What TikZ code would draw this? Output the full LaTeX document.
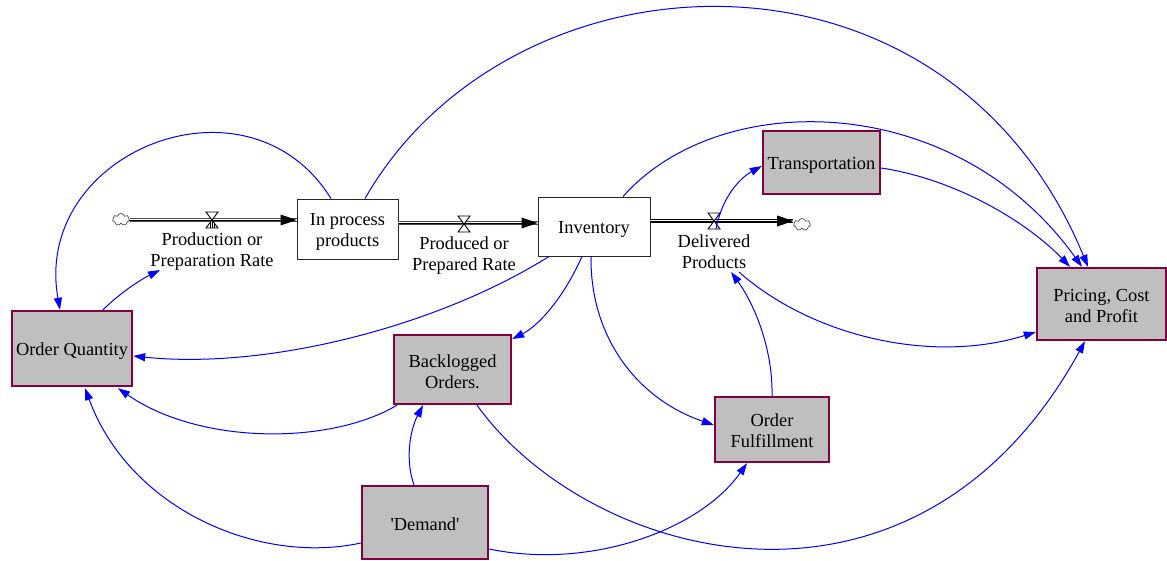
\documentclass[tikz,border=0pt]{standalone}
\usepackage{fontspec}
\setmainfont{Liberation Serif}
\newfontfamily\plainq{Liberation Serif}
\usetikzlibrary{arrows.meta,calc,shapes.symbols}
\newcommand{\lowerby}{\rule{0pt}{18.5pt}}
\newcommand{\lowertwo}{\rule{0pt}{16.5pt}}
\tikzset{
  stock/.style={draw=black!85,fill=white,line width=0.9pt,align=center,inner sep=0pt},
  tool/.style={draw={rgb,255:red,128;green,0;blue,64},fill={rgb,255:red,191;green,191;blue,191},line width=2.4pt,align=center,inner sep=0pt},
  lbl/.style={align=center,inner sep=0pt},
  link/.style={draw={rgb,255:red,0;green,0;blue,255},line width=1pt,-{Triangle[length=12pt,width=8pt,fill={rgb,255:red,0;green,0;blue,255}]}},
  flowpipe/.style={line width=1.4pt,double=white,double distance=1.4pt,draw=black!70},
  flowpipedark/.style={line width=1.4pt,double=white,double distance=1.4pt,draw=black},
  flowhead/.style={line width=0pt,-{Triangle[length=16pt,width=11pt,fill=black]}},
  puff/.style={cloud,cloud puffs=7,draw=black!70,fill=white,line width=0.7pt,minimum width=17pt,minimum height=12pt,inner sep=0pt,aspect=1.4},
  valvept/.style={inner sep=0pt,minimum size=0pt},
  valveline/.style={draw=black,line width=0.9pt}
}
\newcommand{\valveat}[1]{%
  \draw[valveline,fill=white] ($(#1)+(-6,-8)$) -- ($(#1)+(6,-8)$) -- ($(#1)+(-6,8)$) -- ($(#1)+(6,8)$) -- cycle;
}
\newcommand{\valvehatch}[1]{%
  \draw[line width=0.6pt] ($(#1)+(-2,3)$) -- ($(#1)+(-2,8)$) ($(#1)+(0,0)$) -- ($(#1)+(0,8)$) ($(#1)+(2,3)$) -- ($(#1)+(2,8)$);
}
\begin{document}
\begin{tikzpicture}[x=1pt,y=-1pt,font=\fontsize{18.4}{21}\selectfont]
\useasboundingbox (0,0) rectangle (1167,560);
\fill[white] (0,0) rectangle (1167,560);

% boxes
\node[stock,minimum width=101pt,minimum height=60pt] (ip) at (347.5,229) {\lowerby In process\\products};
\node[stock,minimum width=112pt,minimum height=59pt] (inv) at (594,226.5) {\lowerby Inventory};
\node[tool,minimum width=117pt,minimum height=63pt] (tr) at (821.5,162.5) {\lowerby Transportation};
\node[tool,minimum width=120pt,minimum height=75pt] (oq) at (72,348.5) {\lowerby Order Quantity};
\node[tool,minimum width=117pt,minimum height=69pt] (bo) at (452.5,369.5) {\lowertwo Backlogged\\Orders.};
\node[tool,minimum width=114pt,minimum height=65pt] (of) at (772,429.5) {\rule{0pt}{16pt}Order\\Fulfillment};
\node[tool,minimum width=126pt,minimum height=73pt] (de) at (425,522.5) {\rule{0pt}{16pt}\plainq 'Demand'};
\node[tool,minimum width=129pt,minimum height=72pt] (pc) at (1101.5,304) {\lowertwo Pricing, Cost\\and Profit};

% clouds
\node[puff] (c1) at (121,219.5) {};
\node[puff] (c2) at (802,224.5) {};

% flows
\draw[flowpipe] (c1.east|-0,220) -- (ip.west|-0,220);
\draw[flowhead] (c1.east|-0,220) -- (ip.west|-0,220);
\draw[flowpipe] (ip.east|-0,223) -- (inv.west|-0,223);
\draw[flowhead] (ip.east|-0,223) -- (inv.west|-0,223);
\draw[flowpipedark] (inv.east|-0,221) -- (c2.west|-0,221);
\draw[flowhead] (inv.east|-0,221) -- (c2.west|-0,221);

% valves
\node[valvept] (v1) at (212,220) {};
\node[valvept] (v2) at (464,224) {};
\node[valvept] (v3) at (714,221) {};
\valveat{v1}
\valvehatch{v1}
\valveat{v2}
\valveat{v3}

% flow labels
\node[lbl] (l1) at (212,252) {Production or\\Preparation Rate};
\node[lbl] (l2) at (464,255.5) {Produced or\\Prepared Rate};
\node[lbl] (l3) at (714,252) {Delivered\\Products};

% links
\draw[link] ($(ip.north)+(-16.5,0)$) .. controls (248,65) and (32,152) .. ($(oq.north)+(-12,0)$);
\draw[link] ($(ip.north)+(17.5,0)$) .. controls (510,-55) and (945,-79) .. ($(pc.north)+(-13.5,0)$);
\draw[link] ($(inv.north)+(29,0)$) .. controls (720,87) and (955,90) .. ($(pc.north)+(-19.5,0)$);
\draw[link] ($(tr.east)+(0,5.5)$) .. controls (960,180) and (1030,225) .. ($(pc.north)+(-31.5,0)$);
\draw[link] ($(v3)+(2,8)$) .. controls (722,197) and (740,178) .. ($(tr.west)+(0,3.5)$);
\draw[link] ($(l3)+(25,20)$) .. controls (810,335) and (930,365) .. ($(pc.west)+(0,28)$);
\draw[link] (of.north) .. controls (773,350) and (755,305) .. ($(l3)+(17,20)$);
\draw[link] ($(inv.south)+(-3,0)$) .. controls (590,340) and (640,400) .. ($(of.west)+(0,-4.5)$);
\draw[link] ($(inv.south)+(-12,0)$) .. controls (565,295) and (540,325) .. ($(bo.east)+(0,-30.5)$);
\draw[link] ($(inv.south)+(-45,0)$) .. controls (440,325) and (270,370) .. ($(oq.east)+(0,7.5)$);
\draw[link] ($(oq.north)+(31,0)$) .. controls (120,293) and (140,280) .. ($(l1)+(-52,18)$);
\draw[link] ($(bo.south)+(-55.5,0)$) .. controls (330,445) and (200,445) .. ($(oq.south)+(46,1)$);
\draw[link] ($(de.west)+(0,20.5)$) .. controls (260,565) and (130,510) .. ($(oq.south)+(13,1)$);
\draw[link] ($(de.north)+(-11,0)$) .. controls (405,460) and (410,430) .. ($(bo.south)+(-29.5,0)$);
\draw[link] ($(de.east)+(0,26.5)$) .. controls (590,570) and (700,530) .. ($(of.south)+(-25,0)$);
\draw[link] ($(bo.south)+(24.5,0)$) .. controls (590,562) and (915,650) .. ($(pc.south)+(-16.5,0)$);
\end{tikzpicture}
\end{document}
